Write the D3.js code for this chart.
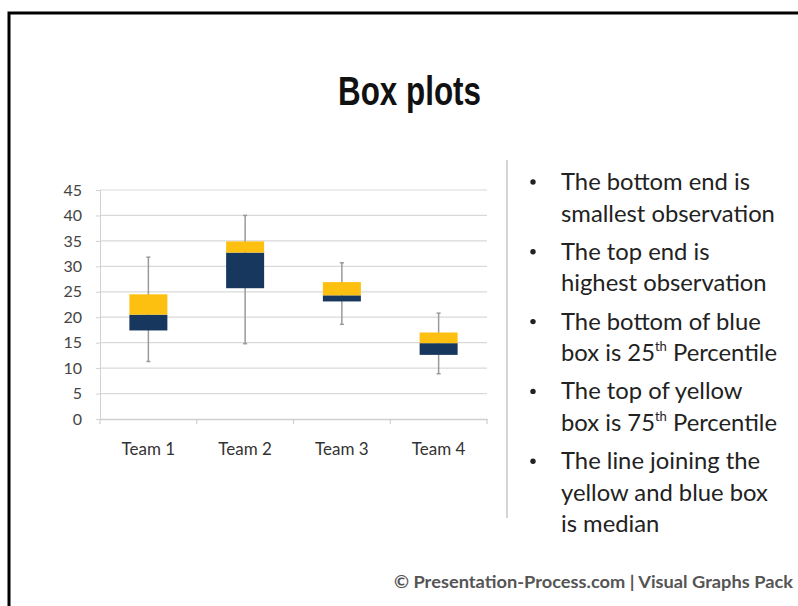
<!DOCTYPE html>
<html>
<head>
<meta charset="utf-8">
<script src="https://cdn.jsdelivr.net/npm/d3@7"></script>
<style>
  html, body { margin: 0; padding: 0; background: #fff; }
  svg { display: block; }
</style>
</head>
<body>
<div id="chart"></div>
<script>
// chart data
const teams = ["Team 1", "Team 2", "Team 3", "Team 4"];
const minValues = [11.3, 14.8, 18.6, 8.9];
const q1Values = [17.4, 25.7, 23.1, 12.6];
const medianValues = [20.5, 32.7, 24.3, 14.9];
const q3Values = [24.5, 34.9, 26.9, 17.0];
const maxValues = [31.8, 40.0, 30.7, 20.8];
const yTicks = [0, 5, 10, 15, 20, 25, 30, 35, 40, 45];

const bullets = [
    ["The bottom end is", "smallest observation"],
    ["The top end is", "highest observation"],
    ["The bottom of blue", ["box is 25", "th", " Percentile"]],
    ["The top of yellow", ["box is 75", "th", " Percentile"]],
    ["The line joining the", "yellow and blue box", "is median"]
];

var width = 798;
var height = 606;

var marginLeft = 100;
var plotRight = 487;
var plotTop = 190;
var plotBottom = 419;

const svg = d3.create("svg")
    .attr("width", width)
    .attr("height", height);

// frame of the slide
svg.append("path")
    .attr("d", `M 9,${height + 5} L 9,13 L ${width + 5},13`)
    .attr("fill", "none")
    .attr("stroke", "#000")
    .attr("stroke-width", 3);

// title (narrow look, squeezed to the width of the original)
svg.append("text")
    .attr("x", 338)
    .attr("y", 105)
    .attr("font-family", "'Liberation Sans', Arial, sans-serif")
    .attr("font-weight", "bold")
    .attr("font-size", 41)
    .attr("fill", "#111")
    .attr("textLength", 143)
    .attr("lengthAdjust", "spacingAndGlyphs")
    .text("Box plots");

// scales
const x = d3.scaleBand()
    .domain(teams)
    .range([marginLeft, plotRight]);

const y = d3.scaleLinear()
    .domain([0, 45])
    .range([plotBottom, plotTop]);

// gridlines
svg.append("g")
    .selectAll("line")
    .data(yTicks.slice(1))
    .join("line")
        .attr("x1", marginLeft)
        .attr("x2", plotRight)
        .attr("y1", d => y(d))
        .attr("y2", d => y(d))
        .attr("stroke", "#d9d9d9")
        .attr("stroke-width", 1.2);

// y axis
const yAxis = g => g
    .attr("transform", `translate(${marginLeft},0)`)
    .call(d3.axisLeft(y).tickValues(yTicks).tickSize(4).tickPadding(14))
    .call(g => g.selectAll("path, line").attr("stroke", "#d0d0d0"))
    .call(g => g.selectAll("text")
        .attr("fill", "#444")
        .attr("font-size", 16)
        .attr("font-family", "Lato, sans-serif"));

svg.append("g").call(yAxis);

// x axis
const xAxis = g => g
    .attr("transform", `translate(0,${plotBottom})`)
    .call(d3.axisBottom(x).tickSize(0).tickPadding(24))
    .call(g => g.select(".domain").attr("stroke", "#cfcfcf").attr("stroke-width", 1.5))
    .call(g => g.selectAll("text")
        .attr("fill", "#333")
        .attr("font-size", 17)
        .attr("font-family", "Lato, sans-serif"));

svg.append("g").call(xAxis);

// category boundary ticks
svg.append("g")
    .selectAll("line")
    .data(teams.concat(["end"]))
    .join("line")
        .attr("x1", (d, i) => i < teams.length ? x(d) : x(teams[teams.length - 1]) + x.bandwidth())
        .attr("x2", (d, i) => i < teams.length ? x(d) : x(teams[teams.length - 1]) + x.bandwidth())
        .attr("y1", plotBottom)
        .attr("y2", plotBottom + 5)
        .attr("stroke", "#cfcfcf")
        .attr("stroke-width", 1.2);

// boxes
const boxWidth = 38;
const boxes = svg.append("g")
    .selectAll("g")
    .data(teams)
    .join("g")
        .attr("transform", d => `translate(${x(d) + x.bandwidth() / 2},0)`);

// whiskers
boxes.append("line")
    .attr("x1", 0)
    .attr("x2", 0)
    .attr("y1", (d, i) => y(minValues[i]))
    .attr("y2", (d, i) => y(maxValues[i]))
    .attr("stroke", "#9a9a9a")
    .attr("stroke-width", 1.5);

boxes.selectAll(".cap")
    .data((d, i) => [minValues[i], maxValues[i]])
    .join("line")
        .attr("class", "cap")
        .attr("x1", -2)
        .attr("x2", 2)
        .attr("y1", d => y(d))
        .attr("y2", d => y(d))
        .attr("stroke", "#9a9a9a")
        .attr("stroke-width", 1.5);

// lower box (blue): q1 to median
boxes.append("rect")
    .attr("x", -boxWidth / 2)
    .attr("width", boxWidth)
    .attr("y", (d, i) => y(medianValues[i]))
    .attr("height", (d, i) => y(q1Values[i]) - y(medianValues[i]))
    .attr("fill", "#17375e");

// upper box (yellow): median to q3
boxes.append("rect")
    .attr("x", -boxWidth / 2)
    .attr("width", boxWidth)
    .attr("y", (d, i) => y(q3Values[i]))
    .attr("height", (d, i) => y(medianValues[i]) - y(q3Values[i]))
    .attr("fill", "#fdc010");

// divider
svg.append("line")
    .attr("x1", 507)
    .attr("x2", 507)
    .attr("y1", 160)
    .attr("y2", 518)
    .attr("stroke", "#c8c8c8")
    .attr("stroke-width", 1.5);

// bullet list
const lineStep = 31.5;
const bulletGap = 38.3;
let baseY = 190;
const list = svg.append("g")
    .attr("font-family", "Lato, sans-serif")
    .attr("font-size", 23.8)
    .attr("fill", "#222");

bullets.forEach(lines => {
    list.append("circle")
        .attr("cx", 533)
        .attr("cy", baseY - 8)
        .attr("r", 2.7)
        .attr("fill", "#222");
    lines.forEach((line, j) => {
        const t = list.append("text")
            .attr("x", 561)
            .attr("y", baseY + j * lineStep);
        if (Array.isArray(line)) {
            t.append("tspan").text(line[0]);
            t.append("tspan").attr("font-size", 13).attr("dy", -10).text(line[1]);
            t.append("tspan").attr("dy", 10).text(line[2]);
        } else {
            t.text(line);
        }
    });
    baseY += (lines.length - 1) * lineStep + bulletGap;
});

// footer
svg.append("text")
    .attr("x", 394)
    .attr("y", 588)
    .attr("font-family", "Lato, sans-serif")
    .attr("font-weight", "bold")
    .attr("font-size", 17.5)
    .attr("fill", "#555")
    .attr("textLength", 399)
    .attr("lengthAdjust", "spacingAndGlyphs")
    .text("© Presentation-Process.com | Visual Graphs Pack");

document.getElementById("chart").appendChild(svg.node());
</script>
</body>
</html>
